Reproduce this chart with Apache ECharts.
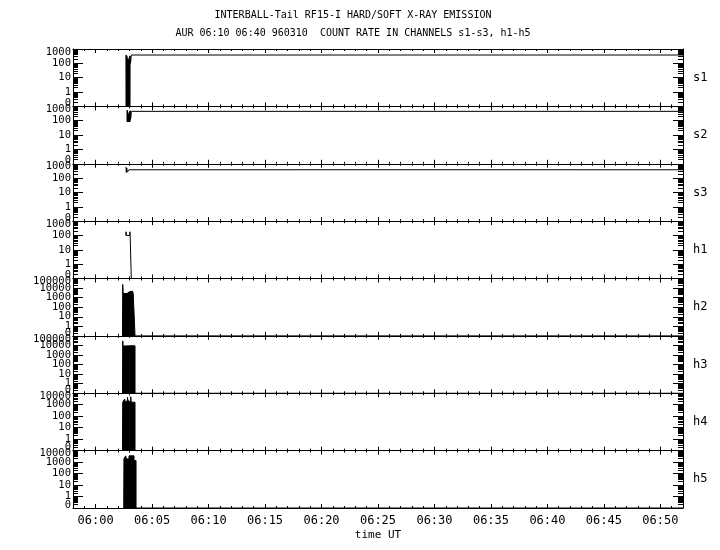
<!DOCTYPE html>
<html><head><meta charset="utf-8">
<script src="https://cdn.jsdelivr.net/npm/echarts@6/dist/echarts.min.js"></script>
<style>html,body{margin:0;padding:0;background:#fff}#c{width:720px;height:550px}</style>
</head><body><div id="c"></div>
<script>
const titleText = 'INTERBALL-Tail RF15-I HARD/SOFT X-RAY EMISSION';
const subtitleText = 'AUR 06:10 06:40 960310  COUNT RATE IN CHANNELS s1-s3, h1-h5';
const xAxisName = 'time UT';
// time in minutes after 06:00 UT
const timeMin = -2, timeMax = 52;
const timeTickValues = [0, 5, 10, 15, 20, 25, 30, 35, 40, 45, 50];
const panelNames = ['s1', 's2', 's3', 'h1', 'h2', 'h3', 'h4', 'h5'];
const panelMax = [1000, 1000, 1000, 1000, 100000, 100000, 10000, 10000];

// count rates (0 = no counts)
const s1T = [2.69, 2.71, 2.73, 2.75, 2.77, 2.79, 2.81, 2.83, 2.85, 2.87, 2.89, 2.91, 2.93, 2.95, 2.97, 2.99, 3.01, 3.03, 3.05, 3.09, 3.13, 3.16, 52];
const s1V = [380, 0, 360, 0, 330, 0, 220, 0, 180, 0, 160, 0, 180, 0, 240, 0, 300, 0, 330, 100, 100, 380, 380];
const s2T = [2.78, 2.80, 2.82, 2.84, 2.86, 2.88, 2.90, 2.92, 2.94, 2.96, 2.98, 3.00, 3.02, 3.04, 3.06, 3.08, 3.13, 3.16, 52];
const s2V = [550, 85, 500, 85, 320, 85, 260, 85, 300, 85, 400, 85, 450, 85, 500, 120, 180, 450, 450];
const s3T = [2.69, 2.72, 2.76, 2.80, 2.86, 2.95, 52];
const s3V = [600, 250, 500, 260, 300, 380, 380];
const h1T = [2.68, 2.70, 2.72, 3.02, 3.04, 3.06, 3.10, 3.16, 52];
const h1V = [100, 180, 100, 100, 180, 100, 100, 0, 0];
// histogram-like channels: each value is held until the next time
const h2T = [2.38, 2.40, 2.44, 2.78, 3.02, 3.28, 3.33, 3.49, 52];
const h2V = [0, 24000, 2700, 4300, 4700, 4400, 2700, 0, 0];
const h3T = [2.38, 2.40, 2.44, 2.55, 3.30, 3.49, 52];
const h3V = [0, 30000, 8500, 9500, 9000, 0, 0];
const h4T = [2.38, 2.40, 2.57, 2.63, 2.75, 2.82, 2.86, 2.96, 3.11, 3.15, 3.49, 52];
const h4V = [0, 1650, 3100, 1650, 2400, 4500, 2400, 1650, 5000, 1650, 0, 0];
const h5T = [2.49, 2.51, 2.66, 2.72, 2.96, 3.40, 3.58, 52];
const h5V = [0, 1900, 3500, 1900, 3500, 1350, 0, 0];

const panelT = [s1T, s2T, s3T, h1T, h2T, h3T, h4T, h5T];
const panelV = [s1V, s2V, s3V, h1V, h2V, h3V, h4V, h5V];
const panelHist = [false, false, false, false, true, true, true, true];

const FONT = 'DejaVu Sans Mono';
const chart = echarts.init(document.getElementById('c'), null, { renderer: 'canvas' });
const top0 = 49, panelH = 57.375, gridLeft = 73, gridRight = 37;
const floorMin = 0.1;
const fmtTime = v => '06:' + String(v).padStart(2, '0');
const decadeIndex = v => Math.round(Math.log10(v)) + 1; // 0 for the floor (shown as "0")
const fmtY = v => v < 0.5 ? '0' : String(Math.round(v));

function buildData(T, V, hist) {
  const out = [];
  for (let k = 0; k < T.length; k++) {
    const v = Math.max(V[k], floorMin);
    if (hist && k > 0) out.push([T[k], Math.max(V[k - 1], floorMin)]);
    out.push([T[k], v]);
  }
  return out;
}

const grid = [], xAxis = [], yAxis = [], series = [];
for (let i = 0; i < 8; i++) {
  grid.push({ left: gridLeft, right: gridRight, top: top0 + i * panelH, height: panelH });
  const last = i === 7;
  ['bottom', 'top'].forEach(pos => {
    xAxis.push({
      gridIndex: i, type: 'value', min: timeMin, max: timeMax, position: pos,
      axisLine: { show: true, onZero: false, lineStyle: { color: '#000', width: 1 } },
      axisTick: { show: true, inside: true, length: 4, customValues: timeTickValues, lineStyle: { color: '#000' } },
      axisLabel: { show: last && pos === 'bottom', customValues: timeTickValues, formatter: fmtTime, fontFamily: FONT, fontSize: 12, color: '#000', margin: 7 },
      splitLine: { show: false },
      name: (last && pos === 'bottom') ? xAxisName : '', nameLocation: 'middle', nameGap: 22,
      nameTextStyle: { fontFamily: FONT, fontSize: 11, color: '#000' }
    });
  });
  ['bottom', 'top'].forEach(pos => {
    xAxis.push({
      gridIndex: i, type: 'value', min: timeMin, max: timeMax, interval: 1, position: pos,
      axisLine: { show: false, onZero: false },
      axisTick: { show: true, inside: true, length: 2, lineStyle: { color: '#000' } },
      axisLabel: { show: false }, splitLine: { show: false }
    });
  });
  const base = { gridIndex: i, type: 'log', logBase: 10, min: floorMin, max: panelMax[i], interval: 1,
    splitLine: { show: false }, minorSplitLine: { show: false } };
  const topIdx = decadeIndex(panelMax[i]);
  // scale, axis line and ticks (left and right)
  ['left', 'right'].forEach(pos => {
    yAxis.push(Object.assign({}, base, {
      position: pos,
      axisLine: { show: true, onZero: false, lineStyle: { color: '#000', width: 1 } },
      axisTick: { show: true, inside: true, length: 10, lineStyle: { color: '#000' } },
      minorTick: { show: true, splitNumber: 9, length: 5, lineStyle: { color: '#000' } },
      axisLabel: { show: false },
      name: pos === 'right' ? panelNames[i] : '', nameLocation: 'middle', nameRotate: 0, nameGap: 10,
      nameTextStyle: { fontFamily: FONT, fontSize: 12, color: '#000', align: 'left' }
    }));
  });
  // tick labels on the left, split over two label-only axes so dense labels are all kept
  [0, 1].forEach(parity => {
    yAxis.push(Object.assign({}, base, {
      position: 'left',
      axisLine: { show: false, onZero: false }, axisTick: { show: false }, minorTick: { show: false },
      axisLabel: { show: true, showMinLabel: parity === 0, showMaxLabel: topIdx % 2 === parity, hideOverlap: false,
        formatter: v => decadeIndex(v) % 2 === parity ? fmtY(v) : '',
        fontFamily: FONT, fontSize: 10.5, lineHeight: 6, color: '#000', margin: 2,
        verticalAlignMinLabel: 'bottom', verticalAlignMaxLabel: 'top' }
    }));
  });
  const s = {
    type: 'line', xAxisIndex: 4 * i, yAxisIndex: 4 * i, data: buildData(panelT[i], panelV[i], panelHist[i]),
    symbol: 'none', showSymbol: false, animation: false, silent: true,
    lineStyle: { color: '#000', width: 1 }
  };
  if (panelHist[i]) { s.areaStyle = { color: '#000', opacity: 1, origin: 'start' }; }
  series.push(s);
}

chart.setOption({
  backgroundColor: '#fff',
  animation: false,
  title: [
    { text: titleText, left: 348, top: 5, textAlign: 'center', textStyle: { fontFamily: FONT, fontSize: 10, fontWeight: 'normal', color: '#000' } },
    { text: subtitleText, left: 348, top: 23, textAlign: 'center', textStyle: { fontFamily: FONT, fontSize: 10, fontWeight: 'normal', color: '#000' } }
  ],
  grid, xAxis, yAxis, series
});
</script>
</body></html>
